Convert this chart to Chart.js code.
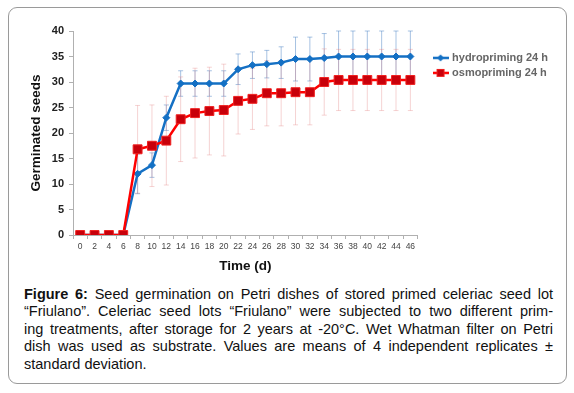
<!DOCTYPE html>
<html>
<head>
<meta charset="utf-8">
<script src="https://cdn.jsdelivr.net/npm/chart.js@4.4.1/dist/chart.umd.min.js"></script>
<style>
  html, body { margin: 0; padding: 0; background: #fff; }
  body { width: 574px; height: 393px; position: relative; overflow: hidden; font-family: 'Liberation Sans', Arial, sans-serif; }
  #frame { position: absolute; left: 8px; top: 7px; width: 557px; height: 375px; border: 1px solid #9a9a9a; border-radius: 9px; }
  #wrap { position: absolute; left: 0; top: 0; width: 574px; height: 280px; }
  #caption { position: absolute; left: 24px; top: 286px; width: 529px; font-size: 14.5px; line-height: 17.4px; color: #111; }
  #caption div { white-space: nowrap; text-align: justify; text-align-last: justify; }
  #caption div.last { text-align-last: left; }
</style>
</head>
<body>
<div id="frame"></div>
<div id="wrap"><canvas id="seedChart"></canvas></div>
<div id="caption">
  <div><b>Figure 6:</b> Seed germination on Petri dishes of stored primed celeriac seed lot</div>
  <div>“Friulano”. Celeriac seed lots “Friulano” were subjected to two different prim-</div>
  <div>ing treatments, after storage for 2 years at -20°C. Wet Whatman filter on Petri</div>
  <div>dish was used as substrate. Values are means of 4 independent replicates ±</div>
  <div class="last">standard deviation.</div>
</div>
<script>
// Time (d)
const days = ['0','2','4','6','8','10','12','14','16','18','20','22','24','26','28','30','32','34','36','38','40','42','44','46'];

// mean germinated seeds
const hydro = [0,0,0,0,12,13.7,23,29.7,29.7,29.7,29.7,32.5,33.3,33.5,33.8,34.5,34.5,34.7,35,35,35,35,35,35];
const osmo = [0,0,0,0,16.8,17.5,18.5,22.7,23.9,24.3,24.5,26.3,26.7,27.8,27.8,28,28,30,30.4,30.4,30.4,30.4,30.4,30.4];

// standard deviation
const hydroSd = [0,0,0,0,3.9,2.4,2.5,2.5,2.5,2.5,2.5,3,2.6,2.7,3.1,4.3,4.3,4.8,5,5,5,5,5,5];
const osmoSd = [0,0,0,0,8.6,8,8.7,8.3,8.8,8.6,9,6.5,6,6.4,6.4,6.4,6.4,6.5,6,6,6,6,6,6];

const yTicks = [0,5,10,15,20,25,30,35,40];

const blue = '#1470c4';
const red = '#ff0000';

// small canvas used as legend symbol: line with marker
function legendSymbol(color, drawMarker) {
    const c = document.createElement('canvas');
    c.width = 16; c.height = 10;
    const g = c.getContext('2d');
    g.strokeStyle = color;
    g.lineWidth = 2.5;
    g.beginPath(); g.moveTo(0, 5); g.lineTo(16, 5); g.stroke();
    drawMarker(g);
    return c;
}
const hydroSym = legendSymbol(blue, g => {
    g.fillStyle = blue;
    g.beginPath(); g.moveTo(8, 1.5); g.lineTo(11.5, 5); g.lineTo(8, 8.5); g.lineTo(4.5, 5); g.closePath(); g.fill();
});
const osmoSym = legendSymbol(red, g => {
    g.fillStyle = '#c8000a';
    g.fillRect(4, 1, 8, 8);
    g.strokeStyle = '#f02020'; g.lineWidth = 1;
    g.strokeRect(4.5, 1.5, 7, 7);
});

// error bars drawn behind the lines
const errorBars = {
    id: 'errorBars',
    beforeDatasetsDraw(chart) {
        const ctx = chart.ctx;
        const y = chart.scales.y;
        const sets = [
            { idx: 0, sd: hydroSd, color: 'rgba(60,120,190,0.45)' },
            { idx: 1, sd: osmoSd, color: 'rgba(225,130,130,0.35)' }
        ];
        ctx.save();
        ctx.lineWidth = 1;
        sets.forEach(s => {
            const meta = chart.getDatasetMeta(s.idx);
            const vals = chart.data.datasets[s.idx].data;
            ctx.strokeStyle = s.color;
            meta.data.forEach((pt, i) => {
                if (!s.sd[i]) return;
                const top = y.getPixelForValue(vals[i] + s.sd[i]);
                const bot = y.getPixelForValue(vals[i] - s.sd[i]);
                ctx.beginPath();
                ctx.moveTo(pt.x, top); ctx.lineTo(pt.x, bot);
                ctx.moveTo(pt.x - 2.5, top); ctx.lineTo(pt.x + 2.5, top);
                ctx.moveTo(pt.x - 2.5, bot); ctx.lineTo(pt.x + 2.5, bot);
                ctx.stroke();
            });
        });
        ctx.restore();
    }
};

// push the legend a little away from the plot
const legendShift = {
    id: 'legendShift',
    afterLayout(chart) {
        chart.legend.left += 13;
        chart.legend.right += 13;
    }
};

const ctx = document.getElementById('seedChart').getContext('2d');
new Chart(ctx, {
    type: 'line',
    data: {
        labels: days,
        datasets: [{
            label: 'hydropriming 24 h',
            data: hydro,
            borderColor: blue,
            backgroundColor: blue,
            borderWidth: 2.5,
            pointStyle: 'rectRot',
            pointRadius: 3.5,
            pointBackgroundColor: blue,
            pointBorderColor: blue,
            pointBorderWidth: 1,
            order: 2,
            tension: 0
        }, {
            label: 'osmopriming 24 h',
            data: osmo,
            borderColor: red,
            backgroundColor: red,
            borderWidth: 2.5,
            pointStyle: 'rect',
            pointRadius: 6.3,
            pointBackgroundColor: '#c8000a',
            pointBorderColor: '#f02020',
            pointBorderWidth: 1,
            order: 1,
            tension: 0
        }]
    },
    options: {
        responsive: true,
        maintainAspectRatio: false,
        animation: false,
        layout: { padding: { top: 31, left: 28, right: 29, bottom: 6 } },
        scales: {
            x: {
                offset: true,
                grid: { offset: true, drawOnChartArea: false, drawTicks: true, tickLength: 4, color: '#b0b0b0' },
                border: { color: '#b0b0b0' },
                ticks: { color: '#444', font: { family: 'Liberation Sans', size: 8.5 }, maxRotation: 0, autoSkip: false, padding: 3 },
                title: { display: true, text: 'Time (d)', color: '#111', font: { family: 'Liberation Sans', size: 13.5, weight: 'bold' }, padding: { top: 3, bottom: 0 } },
                afterFit: s => { s.height = 39; }
            },
            y: {
                min: 0,
                max: 40,
                afterBuildTicks: s => { s.ticks = yTicks.map(v => ({ value: v })); },
                grid: { drawOnChartArea: false, drawTicks: true, tickLength: 4, color: '#b0b0b0' },
                border: { color: '#b0b0b0' },
                ticks: { color: '#222', font: { family: 'Liberation Sans', size: 11, weight: 'bold' }, padding: 5 },
                title: { display: true, text: 'Germinated seeds', color: '#111', font: { family: 'Liberation Sans', size: 13.5, weight: 'bold' }, padding: { top: 0, bottom: 0 } },
                afterFit: s => { s.width = 45; }
            }
        },
        plugins: {
            legend: {
                display: true,
                position: 'right',
                align: 'start',
                title: { display: true, text: '', padding: 1.5 },
                labels: {
                    usePointStyle: true,
                    pointStyleWidth: 12,
                    padding: 4,
                    color: '#111',
                    font: { family: 'Liberation Sans', size: 11, weight: 'bold' },
                    sort: (a, b) => a.datasetIndex - b.datasetIndex,
                    generateLabels: chart => chart.data.datasets.map((d, i) => ({
                        text: d.label,
                        datasetIndex: i,
                        pointStyle: i === 0 ? hydroSym : osmoSym,
                        fillStyle: d.borderColor,
                        strokeStyle: d.borderColor,
                        lineWidth: 0,
                        hidden: false
                    }))
                }
            },
            tooltip: { enabled: false }
        }
    },
    plugins: [errorBars, legendShift]
});
</script>
</body>
</html>
